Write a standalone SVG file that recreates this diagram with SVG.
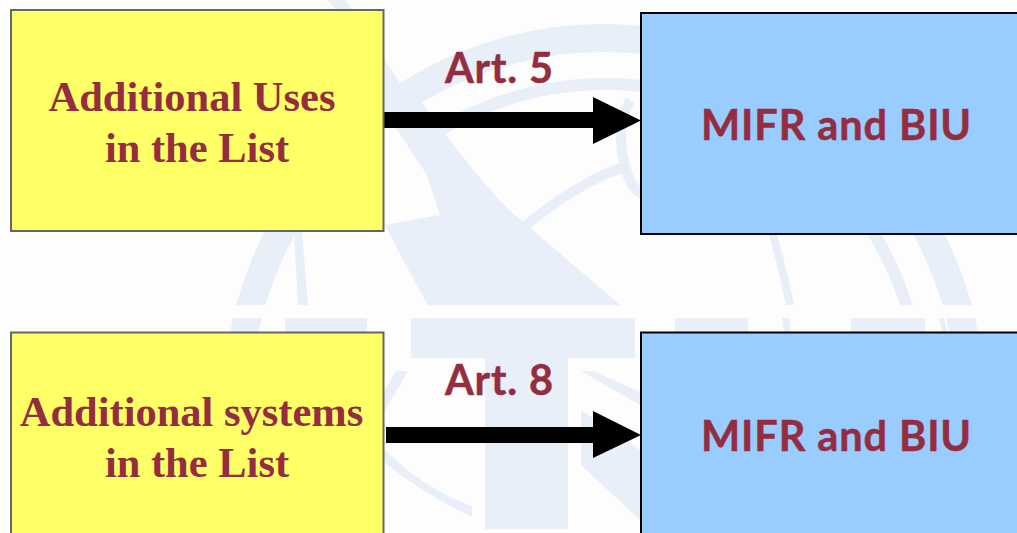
<svg xmlns="http://www.w3.org/2000/svg" width="1017" height="533" viewBox="0 0 1017 533">
<style>
.wm{fill:#e8eff9}
.wl{fill:none;stroke:#e8eff9}
.box{stroke-width:2}
.y{fill:#ffff66;stroke:#666666}
.b{fill:#99ccff;stroke:#000000}
.s{font:bold 42.500px "Liberation Serif",serif;fill:#952d40;text-anchor:middle}
.c{font:bold 41.500px Lato,"Liberation Sans",sans-serif;letter-spacing:.9px;fill:#952d40;stroke:#952d40;stroke-width:.5;text-anchor:middle}
</style>
<defs>
<clipPath id="top"><rect x="0" y="0" width="1017" height="305"/></clipPath>
<clipPath id="low"><rect x="0" y="318" width="1017" height="215"/></clipPath>
<clipPath id="thin"><rect x="440" y="0" width="577" height="305"/></clipPath>
</defs>
<rect width="1017" height="533" fill="#fdfdfe"/>
<g id="watermark">
<g clip-path="url(#top)">
<circle class="wl" cx="604" cy="405" r="367" stroke-width="28"/>
<g clip-path="url(#thin)"><circle class="wl" cx="605" cy="400" r="316" stroke-width="12"/></g>
<path class="wl" stroke-width="8" d="M772 232Q782 265 790 305"/>
<path class="wl" stroke-width="10" d="M520 230Q580 180 630 165M630 100Q615 130 625 165Q630 190 645 195"/>
<path class="wm" d="M327 0H345L400 83Q450 55 509 38V52Q460 75 420 100Q470 170 509 210L620 305H428Q405 265 385 225L440 215L427 175L384 110V63Z"/>
<path class="wm" d="M294 232H302L308 305H298Z"/>
</g>
<g clip-path="url(#low)">
<circle class="wl" cx="604" cy="405" r="367" stroke-width="28"/>
<path class="wm" d="M285 318H367V358H285ZM411 318H635V358H568V529H485V358H411ZM675 318H748V358H675ZM851 318H925V358H851Z"/>
<path class="wm" d="M384 392L396 371H408L384 412ZM384 449Q425 490 472 506V517Q425 495 384 462ZM581 371H593L640 392V405ZM581 410L640 450V520L581 465Z"/>
<path class="wm" d="M782 318H789L791 332H784ZM939 318H944L947 332H942Z"/>
</g>
</g>
<g id="connectors">
<path d="M384 120H593" stroke="#000" stroke-width="16" fill="none"/>
<path d="M593 97L641 120.500L593 144Z" fill="#000"/>
<path d="M386 435H593" stroke="#000" stroke-width="16" fill="none"/>
<path d="M593 411L641 435L593 458Z" fill="#000"/>
<text class="c" x="499.500" y="82.500">Art. 5</text>
<text class="c" x="499.500" y="394.500">Art. 8</text>
</g>
<g id="uses"><rect class="box y" x="11" y="10" width="372.500" height="221"/><text class="s" x="192" y="111">Additional Uses</text><text class="s" x="197" y="162">in the List</text></g>
<g id="mifr1"><rect class="box b" x="641" y="13" width="378" height="221"/><text class="c" x="836.500" y="140">MIFR and BIU</text></g>
<g id="systems"><rect class="box y" x="11" y="332.500" width="372.500" height="210"/><text class="s" x="191.500" y="426">Additional systems</text><text class="s" x="197" y="477">in the List</text></g>
<g id="mifr2"><rect class="box b" x="641" y="332.500" width="378" height="210"/><text class="c" x="836.500" y="451">MIFR and BIU</text></g>
</svg>
